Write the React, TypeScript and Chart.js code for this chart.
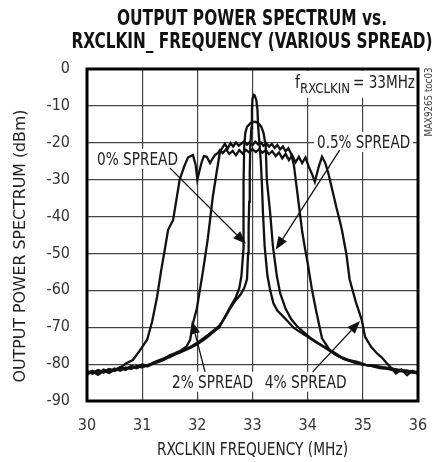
import React, { useEffect, useRef } from "react";
import { Chart, registerables } from "chart.js";

Chart.register(...registerables);

const NARROW = "'Liberation Sans Narrow', 'DejaVu Sans Condensed', 'Roboto', sans-serif";

const titleLines = ["OUTPUT POWER SPECTRUM vs.", "RXCLKIN_ FREQUENCY (VARIOUS SPREAD)"];
const xTitle = "RXCLKIN FREQUENCY (MHz)";
const yTitle = "OUTPUT POWER SPECTRUM (dBm)";
const sideCode = "MAX9265 toc03";
const xTickValues = [30, 31, 32, 33, 34, 35, 36];
const yTickValues = [0, -10, -20, -30, -40, -50, -60, -70, -80, -90];

// 0% spread (narrow spike)
const freq0 = [
  30.0, 30.1, 30.2, 30.3, 30.4, 30.5, 30.6, 30.7, 30.8, 30.9, 31.0, 31.1, 31.2, 31.3,
  31.4, 31.5, 31.6, 31.7, 31.8, 31.9, 32.0, 32.1, 32.2, 32.3, 32.4, 32.5, 32.6, 32.7,
  32.78, 32.85, 32.9, 32.92, 32.93, 32.94, 32.95, 32.96, 32.98, 32.99,
  33.0, 33.02, 33.04, 33.07, 33.09, 33.1, 33.12, 33.15, 33.17, 33.19,
  33.22, 33.27, 33.32, 33.38, 33.45, 33.55, 33.65, 33.75, 33.85,
  34.0, 34.15, 34.3, 34.45, 34.6, 34.75, 34.9, 35.05, 35.2, 35.35, 35.5, 35.65, 35.8, 35.9, 36.0,
];
const pwr0 = [
  -82.4, -81.8, -82.6, -81.5, -82.1, -81.2, -81.8, -80.9, -81.3, -80.5, -80.9, -80.2, -79.8, -79.4,
  -78.8, -77.9, -77.2, -76.6, -75.9, -75.1, -74.2, -73.1, -72.0, -70.8, -69.6, -67.4, -64.8, -62.6,
  -61.2, -59.4, -57, -50, -43, -36, -28, -21, -16, -11,
  -8, -7, -7.2, -8.5, -11, -15, -19, -25, -31, -39,
  -48, -56, -60, -63.5, -65.5, -67, -68.6, -70.2, -71.2,
  -72.6, -74.1, -75.3, -76.6, -78.0, -78.9, -79.4, -80.2, -80.4, -80.8, -81.1, -81.6, -81.8, -82.1, -82.4,
];

// 0.5% spread (dome)
const freq05 = [
  30.0, 30.1, 30.2, 30.3, 30.4, 30.5, 30.6, 30.7, 30.8, 30.9, 31.0, 31.1, 31.2, 31.3,
  31.4, 31.5, 31.6, 31.7, 31.8, 31.9, 32.0, 32.1, 32.2, 32.3,
  32.4, 32.5, 32.6, 32.7, 32.76, 32.8, 32.84, 32.845, 32.83, 32.85, 32.87, 32.9, 32.97, 33.04, 33.1,
  33.16, 33.2, 33.24, 33.26, 33.32, 33.37, 33.44, 33.5, 33.6, 33.7, 33.8, 33.9,
  34.05, 34.2, 34.35, 34.5, 34.65, 34.8, 34.95, 35.1, 35.25, 35.4, 35.55, 35.7, 35.85, 36.0,
];
const pwr05 = [
  -81.9, -82.5, -81.6, -82.3, -81.4, -81.9, -81.1, -81.6, -80.7, -81.1, -80.4, -80.6, -79.9, -79.2,
  -78.6, -78.1, -77.4, -76.8, -76.1, -75.4, -74.6, -73.6, -72.5, -71.2,
  -70.0, -67.2, -64.4, -61.8, -59.4, -56, -48, -40, -31, -21, -17.3, -15.7, -14.6, -14.3, -14.6,
  -15.7, -17.3, -21, -30, -39, -48, -56, -60.7, -65, -67.8, -69.6, -71,
  -72.9, -74.4, -75.9, -77.4, -78.6, -79.2, -80, -80.4, -80.6, -81, -81.3, -81.7, -81.9, -82.2,
];

// 2% spread
const freq2 = [
  30.0, 30.1, 30.2, 30.3, 30.4, 30.5, 30.6, 30.7, 30.8, 30.9, 31.0, 31.1, 31.2, 31.3,
  31.4, 31.5, 31.6, 31.7, 31.8,
  31.87, 31.92, 31.99, 32.1, 32.19, 32.23, 32.28, 32.35, 32.41,
  32.46, 32.5, 32.55, 32.6, 32.65, 32.7, 32.75, 32.8, 32.85, 32.9, 32.95, 33.0, 33.05,
  33.1, 33.15, 33.2, 33.25, 33.3, 33.35, 33.4, 33.45, 33.5, 33.55, 33.6, 33.65, 33.7,
  33.75, 33.8, 33.85, 33.9, 33.95, 34.0, 34.08, 34.16, 34.26, 34.4, 34.55, 34.7, 34.85,
  35.0, 35.15, 35.3, 35.45, 35.6, 35.75, 35.9, 36.0,
];
const pwr2 = [
  -82.0, -82.6, -81.7, -82.2, -81.3, -81.8, -80.8, -81.4, -80.5, -80.9, -80.1, -80.5, -79.6, -79.0,
  -78.4, -77.6, -77.0, -76.3, -75.3,
  -73.4, -69, -65, -55, -46, -41, -34.7, -28, -22.5,
  -21.2, -20.3, -21.6, -20.1, -21.0, -19.9, -20.8, -20.2, -19.6, -20.5, -19.8, -20.6, -19.7,
  -20.4, -19.9, -20.8, -20.1, -21.0, -20.3, -21.4, -20.6, -21.8, -21.0, -22.3, -21.5, -23.0,
  -26, -32, -38, -44, -48.5, -52.6, -60, -66, -73, -76.2, -77.8, -78.9, -79.6,
  -80.1, -80.5, -81.1, -81.3, -81.8, -82.0, -82.3, -82.5,
];

// 4% spread
const freq4 = [
  30.0, 30.1, 30.2, 30.3, 30.4, 30.5, 30.6, 30.72, 30.83, 30.95, 31.09, 31.18, 31.27, 31.34,
  31.41, 31.47, 31.56, 31.62, 31.68, 31.76, 31.83, 31.92, 31.97, 32.0, 32.04, 32.08, 32.12,
  32.17, 32.23, 32.28, 32.32, 32.37, 32.41,
  32.46, 32.52, 32.58, 32.64, 32.7, 32.76, 32.82, 32.88, 32.94, 33.0, 33.06, 33.12, 33.18,
  33.24, 33.3, 33.36, 33.42, 33.48, 33.54, 33.6, 33.66, 33.72, 33.78, 33.84, 33.9, 33.96,
  34.02, 34.08, 34.13, 34.2, 34.26, 34.32, 34.37, 34.45, 34.52, 34.58, 34.62, 34.7, 34.76,
  34.87, 34.98, 35.04, 35.15, 35.25, 35.35, 35.43, 35.5, 35.6, 35.7, 35.8, 35.9, 36.0,
];
const pwr4 = [
  -82.8, -82.0, -82.9, -81.8, -82.4, -81.5, -81.0, -79.7, -78.9, -76.5, -73.4, -68.5, -61.8, -55,
  -49, -43.6, -41, -35.5, -30, -26.5, -24, -23.3, -26, -30, -27.5, -25.2, -23.6,
  -23.8, -25.5, -24.2, -23.3, -22.8, -22.0,
  -22.8, -21.8, -23.0, -22.2, -23.4, -22.0, -22.9, -21.9, -22.6, -21.7, -22.5, -21.8, -22.7,
  -22.0, -23.1, -22.3, -23.6, -22.6, -24.2, -23.0, -24.7, -23.4, -25.3, -23.8, -25.5, -24.0,
  -26.5, -28.5, -30.6, -26.5, -23.8, -25.5, -28, -33, -37.5, -41, -43.6, -50, -57,
  -63, -68, -72.6, -75.3, -77, -78.3, -79.7, -80.8, -82.5, -81.4, -83.0, -81.8, -82.6,
];

// annotations (data coordinates)
const labelText = ["0% SPREAD", "0.5% SPREAD", "2% SPREAD", "4% SPREAD"];
const labelFreq = [30.18, 34.17, 31.54, 33.22];
const labelPwr = [-26, -21.4, -86.4, -86.4];
const labelWidth = [81, 93, 81, 82];

const arrowFromF = [31.5, 34.58, 32.14, 34.09];
const arrowFromP = [-26.8, -22, -82.1, -82.1];
const arrowToF = [32.88, 33.42, 31.9, 34.95];
const arrowToP = [-47.4, -49, -68.3, -68.3];

function fitText(ctx: CanvasRenderingContext2D, text: string, x: number, y: number, w: number, font: string, align: CanvasTextAlign = "left") {
  ctx.save();
  ctx.font = font;
  const m = ctx.measureText(text).width || 1;
  ctx.translate(x, y);
  ctx.scale(w / m, 1);
  ctx.textAlign = align;
  ctx.textBaseline = "alphabetic";
  ctx.fillText(text, 0, 0);
  ctx.restore();
}

function arrow(ctx: CanvasRenderingContext2D, x1: number, y1: number, x2: number, y2: number) {
  const ang = Math.atan2(y2 - y1, x2 - x1);
  const hl = 13, hw = 5;
  const bx = x2 - hl * Math.cos(ang), by = y2 - hl * Math.sin(ang);
  ctx.save();
  ctx.strokeStyle = "#111";
  ctx.fillStyle = "#111";
  ctx.lineWidth = 1.3;
  ctx.beginPath();
  ctx.moveTo(x1, y1);
  ctx.lineTo(bx, by);
  ctx.stroke();
  ctx.beginPath();
  ctx.moveTo(x2, y2);
  ctx.lineTo(bx + hw * Math.sin(ang), by - hw * Math.cos(ang));
  ctx.lineTo(bx - hw * Math.sin(ang), by + hw * Math.cos(ang));
  ctx.closePath();
  ctx.fill();
  ctx.restore();
}

const annotPlugin = {
  id: "annot",
  beforeDatasetsDraw(chart: any) {
    const ctx: CanvasRenderingContext2D = chart.ctx;
    const xs = chart.scales.x, ys = chart.scales.y;
    ctx.save();
    labelText.forEach((t, i) => {
      const x = xs.getPixelForValue(labelFreq[i]);
      const y = ys.getPixelForValue(labelPwr[i]);
      ctx.fillStyle = "#fff";
      ctx.fillRect(x - 3, y - 16, labelWidth[i] + 6, 20);
      ctx.fillStyle = "#222";
      fitText(ctx, t, x, y, labelWidth[i], `17px ${NARROW}`);
    });
    // f RXCLKIN = 33MHz
    const fx = xs.getPixelForValue(33.77);
    const fy = ys.getPixelForValue(-5.1);
    ctx.fillStyle = "#fff";
    ctx.fillRect(fx - 3, fy - 17, 126, 27);
    ctx.fillStyle = "#222";
    fitText(ctx, "f", fx, fy, 5, `17px ${NARROW}`);
    fitText(ctx, "RXCLKIN", fx + 5, fy + 5, 50, `14px ${NARROW}`);
    fitText(ctx, "= 33MHz", fx + 58, fy, 62, `17px ${NARROW}`);
    ctx.restore();
  },
  afterDatasetsDraw(chart: any) {
    const ctx: CanvasRenderingContext2D = chart.ctx;
    const xs = chart.scales.x, ys = chart.scales.y;
    const a = chart.chartArea;
    ctx.save();
    ctx.strokeStyle = "#000";
    ctx.lineWidth = 3;
    ctx.strokeRect(a.left, a.top, a.right - a.left, a.bottom - a.top);
    ctx.restore();
    for (let i = 0; i < arrowFromF.length; i++) {
      arrow(
        ctx,
        xs.getPixelForValue(arrowFromF[i]),
        ys.getPixelForValue(arrowFromP[i]),
        xs.getPixelForValue(arrowToF[i]),
        ys.getPixelForValue(arrowToP[i])
      );
    }
  },
  afterDraw(chart: any) {
    const ctx: CanvasRenderingContext2D = chart.ctx;
    ctx.save();
    ctx.fillStyle = "#111";
    fitText(ctx, titleLines[0], 252, 25, 270, `bold 21px ${NARROW}`, "center");
    fitText(ctx, titleLines[1], 252, 48, 361, `bold 21px ${NARROW}`, "center");
    ctx.fillStyle = "#222";
    fitText(ctx, xTitle, 252.5, 455, 191, `17px ${NARROW}`, "center");
    ctx.save();
    ctx.translate(25, 246);
    ctx.rotate(-Math.PI / 2);
    fitText(ctx, yTitle, 0, 0, 273, `16px ${NARROW}`, "center");
    ctx.restore();
    ctx.save();
    ctx.translate(432, 102);
    ctx.rotate(-Math.PI / 2);
    ctx.fillStyle = "#444";
    fitText(ctx, sideCode, 0, 0, 69, `11px ${NARROW}`, "center");
    ctx.restore();
    ctx.restore();
  },
};

function series(f: number[], p: number[]) {
  return f.map((x, i) => ({ x, y: p[i] }));
}

export default function App() {
  const ref = useRef<HTMLCanvasElement | null>(null);
  useEffect(() => {
    if (!ref.current) return;
    const lineStyle = {
      showLine: true,
      borderColor: "#111",
      borderWidth: 2.3,
      pointRadius: 0,
      tension: 0,
      fill: false,
    };
    const chart = new Chart(ref.current, {
      type: "scatter",
      data: {
        datasets: [
          { label: "0% SPREAD", data: series(freq0, pwr0), ...lineStyle },
          { label: "0.5% SPREAD", data: series(freq05, pwr05), ...lineStyle },
          { label: "2% SPREAD", data: series(freq2, pwr2), ...lineStyle },
          { label: "4% SPREAD", data: series(freq4, pwr4), ...lineStyle },
        ],
      },
      options: {
        animation: false,
        responsive: false,
        devicePixelRatio: 1,
        layout: { padding: { top: 69, right: 26, bottom: 0, left: 0 } },
        plugins: { legend: { display: false }, title: { display: false }, tooltip: { enabled: false } },
        scales: {
          x: {
            type: "linear",
            min: 30,
            max: 36,
            afterBuildTicks: (s: any) => {
              s.ticks = xTickValues.map((v) => ({ value: v }));
            },
            afterFit: (s: any) => {
              s.height = 61;
            },
            ticks: { font: { family: NARROW, size: 16 }, color: "#333", padding: 15 },
            grid: { color: "#444", lineWidth: 1.2, drawTicks: false },
            border: { display: false },
          },
          y: {
            type: "linear",
            min: -90,
            max: 0,
            afterBuildTicks: (s: any) => {
              s.ticks = yTickValues.map((v) => ({ value: v }));
            },
            afterFit: (s: any) => {
              s.width = 87;
            },
            ticks: { font: { family: NARROW, size: 16 }, color: "#333", padding: 17 },
            grid: { color: "#444", lineWidth: 1.2, drawTicks: false },
            border: { display: false },
          },
        },
      },
      plugins: [annotPlugin],
    } as any);
    return () => chart.destroy();
  }, []);
  return (
    <div style={{ position: "absolute", left: 0, top: 0, width: 444, height: 462, background: "#fff" }}>
      <canvas ref={ref} width={444} height={462} style={{ display: "block" }} />
    </div>
  );
}
